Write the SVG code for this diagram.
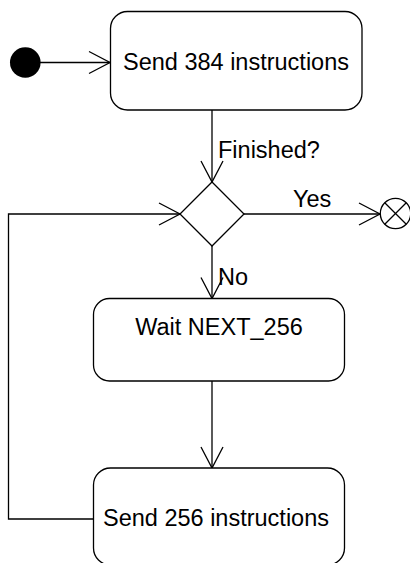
<svg xmlns="http://www.w3.org/2000/svg" width="410" height="563" viewBox="0 0 410 563">
  <defs>
    <marker id="open" markerUnits="userSpaceOnUse" markerWidth="26" markerHeight="26" refX="21" refY="11" orient="auto" overflow="visible">
      <path d="M0,0 L21,11 L0,22" fill="none" stroke="#000" stroke-width="1.3"/>
    </marker>
  </defs>
  <style>
    .box { fill: #fff; stroke: #000; stroke-width: 1.3; }
    .edge { fill: none; stroke: #000; stroke-width: 1.3; }
    text { font-family: "Liberation Sans", Arial, sans-serif; font-size: 23.5px; fill: #000; }
    .c { text-anchor: middle; }
  </style>

  <!-- connectors -->
  <g id="connectors">
    <line class="edge" x1="40" y1="62.5" x2="110" y2="62.5" marker-end="url(#open)"/>
    <line class="edge" x1="212" y1="110" x2="212" y2="182" marker-end="url(#open)"/>
    <line class="edge" x1="244" y1="214" x2="380" y2="214" marker-end="url(#open)"/>
    <line class="edge" x1="212" y1="246" x2="212" y2="298.5" marker-end="url(#open)"/>
    <line class="edge" x1="212" y1="381" x2="212" y2="468" marker-end="url(#open)"/>
    <polyline class="edge" points="94,519 8.5,519 8.5,214 180,214" marker-end="url(#open)"/>
    <text x="218" y="158">Finished?</text>
    <text x="293" y="207">Yes</text>
    <text x="218" y="285">No</text>
  </g>

  <!-- start -->
  <g id="start">
    <circle cx="25.3" cy="62.5" r="15.3" fill="#000"/>
  </g>

  <!-- Send 384 instructions -->
  <g id="send384">
    <rect class="box" x="110.5" y="11.5" width="251.5" height="98.5" rx="17" ry="17"/>
    <text class="c" x="236" y="70">Send 384 instructions</text>
  </g>

  <!-- decision -->
  <g id="decision">
    <polygon class="box" points="212,182 244,214 212,246 180,214"/>
  </g>

  <!-- final -->
  <g id="final">
    <circle cx="395.5" cy="213.5" r="15.2" fill="#fff" stroke="#000" stroke-width="1.3"/>
    <line class="edge" x1="384.75" y1="202.75" x2="406.25" y2="224.25"/>
    <line class="edge" x1="384.75" y1="224.25" x2="406.25" y2="202.75"/>
  </g>

  <!-- Wait NEXT_256 -->
  <g id="wait">
    <rect class="box" x="93.5" y="298.5" width="251" height="82.5" rx="16" ry="16"/>
    <text class="c" x="219" y="335">Wait NEXT_256</text>
  </g>

  <!-- Send 256 instructions -->
  <g id="send256">
    <rect class="box" x="93.5" y="468" width="251" height="97" rx="17" ry="17"/>
    <text class="c" x="216" y="526">Send 256 instructions</text>
  </g>
</svg>
